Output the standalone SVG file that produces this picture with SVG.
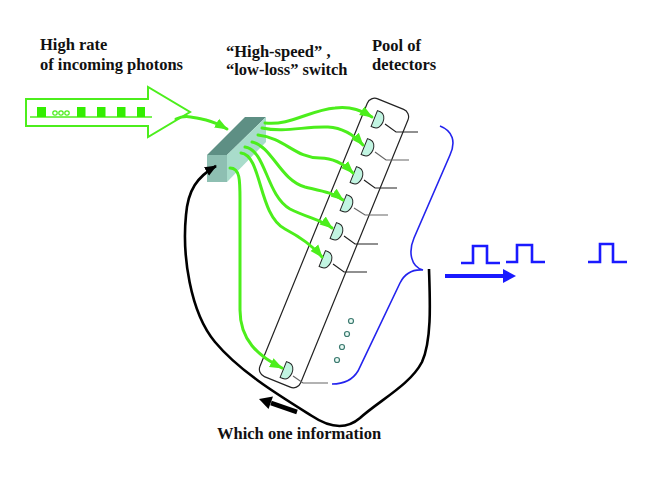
<svg xmlns="http://www.w3.org/2000/svg" width="654" height="489" viewBox="0 0 654 489">
<style>
.lbl{font-family:"Liberation Serif","Times New Roman",serif;font-weight:bold;font-size:16.5px;fill:#111}
.g{fill:none;stroke:#4cee1c;stroke-width:3;stroke-linecap:round}
.det{fill:#c2f5e2;stroke:#222;stroke-width:1}
.wire{fill:none;stroke:#222;stroke-width:1.2}
.wire2{fill:none;stroke:#666;stroke-width:1.2}
.dot{fill:#eafaf4;stroke:#3c7a70;stroke-width:1.2}
.pulse{fill:none;stroke:#1a1aff;stroke-width:2.6}
</style>
<defs>
<marker id="ga" markerUnits="userSpaceOnUse" markerWidth="13" markerHeight="12" viewBox="0 0 13 12" refX="12" refY="6" orient="auto">
<path d="M0,1 L13,6 L0,11 Z" fill="#4cee1c"/>
</marker>
<marker id="ka" markerUnits="userSpaceOnUse" markerWidth="12" markerHeight="11" viewBox="0 0 12 11" refX="11" refY="5.5" orient="auto">
<path d="M0,0.5 L12,5.5 L0,10.5 Z" fill="#000"/>
</marker>
<path id="dsh" d="M -4,-8.5 L -1,-8.5 C 7.5,-8.5 7.5,8.5 -1,8.5 L -4,8.5 Z"/>
</defs>
<rect width="654" height="489" fill="#fff"/>

<g id="labels">
<text class="lbl" x="40" y="50">High rate</text>
<text class="lbl" x="40" y="70">of incoming photons</text>
<text class="lbl" x="226" y="57">“High-speed” ,</text>
<text class="lbl" x="226" y="75">“low-loss” switch</text>
<text class="lbl" x="372" y="51">Pool of</text>
<text class="lbl" x="372" y="70">detectors</text>
<text class="lbl" x="217" y="439">Which one information</text>
</g>

<g id="input-arrow">
<path d="M26,99 L148,99 L148,87 L190,112 L148,137 L148,126 L26,126 Z" fill="#fff" stroke="#4cee1c" stroke-width="2"/>
<line x1="30" y1="117" x2="152" y2="117" stroke="#4cee1c" stroke-width="1.5"/>
<g fill="#33ee00">
<rect x="37" y="107" width="9" height="10"/>
<rect x="77" y="107" width="8.5" height="10"/>
<rect x="97" y="107" width="8.5" height="10"/>
<rect x="117" y="107" width="8.5" height="10"/>
<rect x="137" y="107" width="8" height="10"/>
</g>
<g fill="#fff" stroke="#4cee1c" stroke-width="1.2">
<circle cx="55" cy="113" r="2.2"/>
<circle cx="61" cy="113" r="2.2"/>
<circle cx="67" cy="113" r="2.2"/>
</g>
</g>

<g id="switch">
<polygon points="207,155 245,117 266,117 227,155" fill="#5e8f84"/>
<polygon points="227,155 266,117 266,142 227,182" fill="#a9dccb"/>
<rect x="207" y="155" width="20" height="27" fill="#8ebfb2"/>
</g>

<g id="detector-pool">
<rect x="-22" y="-150" width="44" height="300" rx="8" fill="none" stroke="#222" stroke-width="1.2" transform="translate(334,243) rotate(22.2)"/>
<circle class="dot" cx="351" cy="321" r="2.5"/>
<circle class="dot" cx="347" cy="334" r="2.5"/>
<circle class="dot" cx="342" cy="347" r="2.5"/>
<circle class="dot" cx="337" cy="360" r="2.5"/>
</g>

<g id="d1"><use href="#dsh" class="det" transform="translate(378,120) rotate(22)"/><polyline class="wire" points="385,124 396,132 418,132"/></g>
<g id="d2"><use href="#dsh" class="det" transform="translate(368,148) rotate(22)"/><polyline class="wire2" points="375,152 386,160 409,160"/></g>
<g id="d3"><use href="#dsh" class="det" transform="translate(357,176) rotate(22)"/><polyline class="wire" points="364,180 375,188 397,188"/></g>
<g id="d4"><use href="#dsh" class="det" transform="translate(347,204) rotate(22)"/><polyline class="wire2" points="354,208 365,215 388,215"/></g>
<g id="d5"><use href="#dsh" class="det" transform="translate(337,232) rotate(22)"/><polyline class="wire" points="344,236 355,244 378,244"/></g>
<g id="d6"><use href="#dsh" class="det" transform="translate(326,260) rotate(22)"/><polyline class="wire" points="333,264 344,272 367,272"/></g>
<g id="d7"><use href="#dsh" class="det" transform="translate(287,371) rotate(22)"/><polyline class="wire2" points="293,376 303,383 328,383"/></g>

<g id="brace">
<path d="M440,126 C453,131 456,142 450,155 L414,238 C408,252 411,267 423,270 C411,269 404,275 400,283 L358,371 C352,381 343,384 332,384" fill="none" stroke="#2323ee" stroke-width="1.6"/>
</g>

<g id="pulses">
<polyline class="pulse" points="461,263 473,263 473,246 487,246 487,263 500,263"/>
<polyline class="pulse" points="506,262 517,262 517,245 532,245 532,262 545,262"/>
<polyline class="pulse" points="588,262 600,262 600,244 613,244 613,262 627,262"/>
<line x1="445" y1="276" x2="505" y2="276" stroke="#1a1aff" stroke-width="4"/>
<polygon points="503,269 516,276 503,283" fill="#1a1aff"/>
</g>

<g id="connectors">
<path class="g" d="M176,119 C186,114 196,118 206,120 C214,122 220,125 227,129" marker-end="url(#ga)"/>
<path class="g" d="M265,123 C290,126 310,110 335,108 C352,106 362,111 372,117" marker-end="url(#ga)"/>
<path class="g" d="M262,128 C285,133 305,126 328,127 C345,128 355,136 363,145" marker-end="url(#ga)"/>
<path class="g" d="M258,135 C285,138 295,158 320,158 C335,158 345,165 353,173" marker-end="url(#ga)"/>
<path class="g" d="M252,142 C272,146 280,180 305,187 C322,191 334,193 343,200" marker-end="url(#ga)"/>
<path class="g" d="M245,147 C266,150 266,195 290,209 C308,218 322,220 332,228" marker-end="url(#ga)"/>
<path class="g" d="M241,153 C262,155 258,215 285,229 C302,238 313,246 322,257" marker-end="url(#ga)"/>
<path class="g" d="M230,168 C240,168 240,180 240,200 L240,310 C240,340 258,356 282,368" marker-end="url(#ga)"/>
<path d="M429,269 C430,300 432,340 422,362 C410,385 380,400 360,418 C346,430 330,428 312,416 C280,396 240,372 215,342 C190,312 182,255 186,215 C188,190 197,177 216,166" fill="none" stroke="#000" stroke-width="2.6" marker-end="url(#ka)"/>
<line x1="297" y1="412" x2="271" y2="403" stroke="#000" stroke-width="4.5"/>
<polygon points="259,399 273,396.5 268.5,409" fill="#000"/>
</g>
</svg>
